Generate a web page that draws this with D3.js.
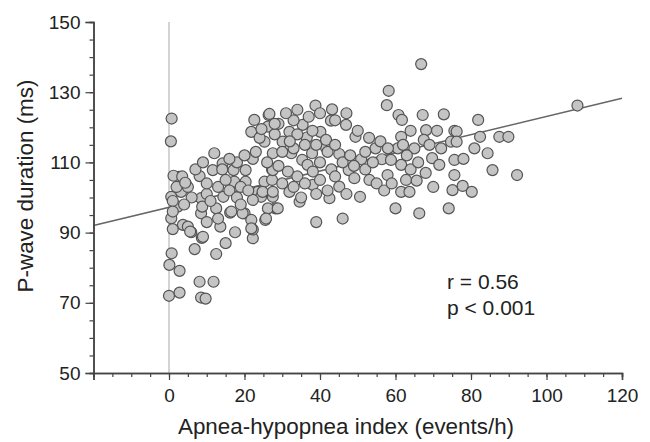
<!DOCTYPE html>
<html>
<head>
<meta charset="utf-8">
<script src="https://cdn.jsdelivr.net/npm/d3@7"></script>
<style>
  body { margin: 0; background: #fff; }
  text { font-family: "Liberation Sans", Arial, sans-serif; fill: #222; }
</style>
</head>
<body>
<svg width="650" height="442"></svg>
<script>
// apnea-hypopnea index (events/h)
var ahi = [
  0.7, 0.5, 0.7, 0.1, 2.8, 8.1, 11.8, 0, 2.8, 8.5, 9.7,
  0.6, 3.7, 5.9, 8.7, 6.8, 12.5, 15, 17.5, 13.6, 22.2, 22.2, 25.5, 28.2, 20, 16.2, 12.5, 8.5, 2.3,
  12, 2.6, 4.4, 8.1, 11.6, 14.2, 14.1, 17.1, 20.3, 17.3, 20.3, 23.5, 22.2, 21.8, 22.6, 26.4, 26.2, 25.3, 27.5, 27.3, 25.3,
  0.6, 3.2, 5, 8.5, 8.8, 9, 14.4, 16.5, 19.5, 21.8, 21.8, 26.2, 24.4, 22.2, 27.5, 27.3,
  66.8, 58.2, 57.7, 38.8, 43.2, 26.6, 42.9, 46.9, 35.4, 31.9, 40.1, 49.4, 36.5, 30.1, 41.6, 45.1, 50.9, 54.7, 56.4,
  60.8, 61.7, 61.5, 60.6, 65, 67.2, 68.1, 67.5, 72.8, 75.6, 72.1, 69.7, 71.6, 75.6, 75.1, 74.1, 66.3, 60, 61.5, 63.7,
  62.8, 65.6, 61.5, 57.9, 53.1, 50.6, 46, 42.5, 45.1, 47.6, 49.1, 38.1, 34.6, 31.9, 28.8, 25.7, 24.8, 27.5, 27.5, 31.5,
  32.4, 35.3, 37.9, 36.7, 38.1, 41.6, 58.8, 74.7, 75.6, 39,
  108.2, 81.9, 76.2, 82.4, 87.5, 89.9, 76.2, 80.9, 84.4, 78, 85.7, 92.2, 77.8, 80.2,
  29, 33, 37, 40, 44, 47, 50, 34, 38, 28, 30, 33, 36, 39, 42, 44, 46, 48, 49, 40, 43, 34, 36, 40, 42, 44, 30, 33, 29,
  35, 39, 47, 52, 54, 55, 52, 53, 56, 58, 63, 64, 66, 68, 70, 57, 59, 69, 71, 64, 62,
  5, 6, 10, 10, 13, 15, 16, 18, 19, 7, 9, 11, 4, 18, 16, 20, 21, 19, 13, 10,
  1, 1, 2, 1, 1.2, 3.5, 4.3, 5.6,
  24, 28, 31, 34, 23, 26, 32, 24.5
];
// P-wave duration (ms)
var pWave = [
  122.5, 116, 84.1, 80.8, 79.1, 76, 76, 72, 72.9, 71.5, 71.2,
  94.1, 92.2, 90.1, 88.5, 85.3, 83.9, 87, 90.1, 91.7, 88.4, 90.9, 93.6, 96.9, 95.5, 95.7, 96.9, 95.5, 97.4,
  112.6, 105.9, 104, 106.1, 107.8, 109.7, 108, 107.8, 107.8, 104.5, 104.5, 101.6, 111, 118.7, 122.1, 123.5, 120.2, 115.9, 112.6, 108, 104.5,
  100.2, 101.6, 91.7, 99.8, 97.4, 88.8, 100.2, 96, 95.5, 93.6, 91.2, 96.9, 100.2, 99.3, 100.2, 105,
  138, 130.4, 126.3, 126.2, 125.1, 123.8, 121.9, 120.7, 120.7, 118.7, 118.7, 117.3, 117.1, 115.9, 114.2, 112.4, 110.9, 114, 110.9,
  123.5, 122.1, 117.3, 114, 114, 123.5, 119.2, 116.4, 123.7, 119, 114, 111.2, 109.3, 106.4, 102.1, 96.9, 95.5, 96.9, 101.6, 101.6,
  105, 104.8, 109.3, 106.4, 105, 100.2, 94, 99.8, 103.1, 107.8, 105.5, 103.6, 98.8, 101.6, 96.9, 94, 101.6, 101.6, 107.8, 107.4,
  112.6, 110.7, 112.6, 109.3, 107.4, 116.4, 110.7, 115.9, 110.7, 93,
  126.2, 122.1, 118.8, 117.3, 117.3, 117.3, 115.9, 114, 112.6, 111, 107.8, 106.4, 103.3, 101.6,
  121, 122, 123, 124, 122, 124, 119, 118, 119, 118, 113, 114, 115, 115, 113, 115, 110, 112, 109, 110, 108, 106, 104, 105, 102, 106, 104, 103, 109,
  100, 101, 101, 108, 110, 104, 113, 117, 116, 114, 112, 108, 110, 107, 103, 102, 104, 115, 119, 119, 115,
  103, 100, 101, 104, 103, 105, 102, 100, 103, 108, 110, 99, 98, 110, 111, 112, 102, 98, 94, 93,
  99, 96, 103, 91, 106.2, 106, 104.2, 90.3,
  117, 121, 124, 125, 113, 110, 116, 119.5
];
var xTicks = [-20, 0, 20, 40, 60, 80, 100, 120];
var yTicks = [50, 70, 90, 110, 130, 150];
var fit = { intercept: 97.2, slope: 0.259 };
var stats = ["r = 0.56", "p < 0.001"];

var svg = d3.select("svg");
var x = d3.scaleLinear().domain([-20, 120]).range([93.5, 622]);
var y = d3.scaleLinear().domain([50, 150]).range([373, 22]);

// reference line at AHI = 0
svg.append("line")
  .attr("x1", x(0)).attr("x2", x(0))
  .attr("y1", y(150)).attr("y2", y(50))
  .attr("stroke", "#a8a8a8").attr("stroke-width", 1);

// regression line
svg.append("line")
  .attr("x1", x(-20)).attr("y1", y(fit.intercept + fit.slope * -20))
  .attr("x2", x(120)).attr("y2", y(fit.intercept + fit.slope * 120))
  .attr("stroke", "#666").attr("stroke-width", 1.5);

var pts = ahi.map((d, i) => ({ x: d, y: pWave[i] }));
svg.append("g").selectAll("circle")
  .data(pts)
  .enter()
  .append("circle")
  .attr("cx", d => x(d.x))
  .attr("cy", d => y(d.y))
  .attr("r", 5.5)
  .style("fill", "#c4c4c4")
  .style("stroke", "#545454")
  .style("stroke-width", 1.2);

// axes: minor ticks then major ticks
var minorX = d3.range(-20, 121, 5), minorY = d3.range(50, 151, 5);
var gx = svg.append("g").attr("transform", "translate(0," + y(50) + ")");
gx.call(d3.axisBottom(x).tickValues(minorX).tickSize(4).tickFormat(""));
gx.append("g").call(d3.axisBottom(x).tickValues(xTicks).tickSize(7)
  .tickFormat(d => d < 0 ? "" : d).tickPadding(9));
var gy = svg.append("g").attr("transform", "translate(" + x(-20) + ",0)");
gy.call(d3.axisLeft(y).tickValues(minorY).tickSize(4).tickFormat(""));
gy.append("g").call(d3.axisLeft(y).tickValues(yTicks).tickSize(8).tickPadding(5));

svg.selectAll(".domain").attr("stroke", "#444").attr("stroke-width", 1.5);
svg.selectAll(".tick line").attr("stroke", "#444").attr("stroke-width", 1.2);
svg.selectAll(".tick text").style("font-size", "19px")
  .style("font-family", '"Liberation Sans", Arial, sans-serif').attr("fill", "#222");

svg.append("text")
  .attr("x", 346).attr("y", 434)
  .attr("text-anchor", "middle").style("font-size", "22.4px")
  .text("Apnea-hypopnea index (events/h)");
svg.append("text")
  .attr("transform", "translate(33,186) rotate(-90)")
  .attr("text-anchor", "middle").style("font-size", "22.4px")
  .text("P-wave duration (ms)");

svg.selectAll("text.stat")
  .data(stats)
  .enter()
  .append("text")
  .attr("class", "stat")
  .attr("x", 447)
  .attr("y", (d, i) => 289 + i * 26)
  .style("font-size", "21px")
  .text(d => d);
</script>
</body>
</html>
